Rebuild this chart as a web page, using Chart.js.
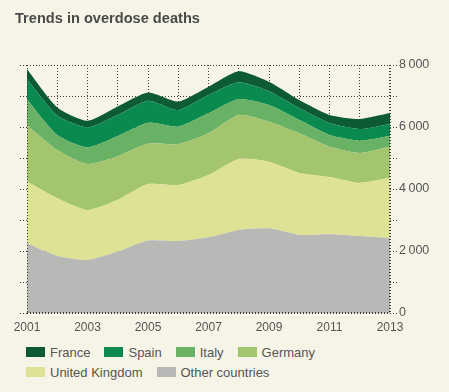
<!DOCTYPE html>
<html>
<head>
<meta charset="utf-8">
<script src="https://cdn.jsdelivr.net/npm/chart.js@4/dist/chart.umd.min.js"></script>
<style>
  body { margin: 0; background: #f5f4e7; font-family: "Liberation Sans", Arial, sans-serif; }
  #wrap { position: relative; width: 449px; height: 392px; overflow: hidden; }
  #title { position: absolute; left: 15px; top: 10px; font-size: 14.6px; font-weight: bold; color: #4a4a4a; }
  #box { position: absolute; left: 0; top: 0; width: 449px; height: 340px; }
  #legend { position: absolute; left: 26px; top: 342px; font-size: 13px; color: #555; }
  .row { display: flex; align-items: center; height: 20px; }
  .item { display: flex; align-items: center; margin-right: 14px; }
  .sw { width: 19px; height: 10px; margin-right: 5px; }
</style>
</head>
<body>
<div id="wrap">
  <div id="box"><canvas id="ctx"></canvas></div>
  <div id="title">Trends in overdose deaths</div>
  <div id="legend"></div>
</div>
<script>
'use strict';
const years = ['2001', '2002', '2003', '2004', '2005', '2006', '2007', '2008', '2009', '2010', '2011', '2012', '2013'];
const other = [2250, 1840, 1710, 1980, 2340, 2320, 2440, 2680, 2730, 2520, 2540, 2480, 2410];
const uk = [1990, 1860, 1610, 1670, 1820, 1810, 2010, 2290, 2150, 2000, 1850, 1720, 1950];
const germany = [1820, 1560, 1490, 1410, 1310, 1320, 1350, 1420, 1290, 1280, 980, 960, 1010];
const italy = [830, 480, 530, 650, 670, 560, 640, 510, 540, 430, 370, 400, 340];
const spain = [650, 630, 650, 680, 710, 540, 590, 540, 440, 380, 390, 375, 390];
const france = [320, 260, 210, 270, 260, 270, 270, 360, 310, 260, 260, 325, 350];
const yTicks = [0, 2000, 4000, 6000, 8000];

const series = [
  { label: 'Other countries', data: other, color: '#b8b8b7' },
  { label: 'United Kingdom', data: uk, color: '#dde294' },
  { label: 'Germany', data: germany, color: '#a3c56e' },
  { label: 'Italy', data: italy, color: '#68b165' },
  { label: 'Spain', data: spain, color: '#0b8a50' },
  { label: 'France', data: france, color: '#0c5b35' }
];

const gridCol = '#3c3c3c';
const fmt = v => String(v).replace(/\B(?=(\d{3})+(?!\d))/g, '\u2009');

// dotted axis lines drawn over the areas
const axisLines = {
  id: 'axisLines',
  afterDatasetsDraw(chart) {
    const { ctx, chartArea: a } = chart;
    ctx.save();
    ctx.strokeStyle = gridCol;
    ctx.lineWidth = 1;
    ctx.setLineDash([1, 2]);
    ctx.beginPath();
    ctx.moveTo(a.left + 0.5, a.top);
    ctx.lineTo(a.left + 0.5, a.bottom);
    ctx.moveTo(a.right - 0.5, a.top);
    ctx.lineTo(a.right - 0.5, a.bottom);
    ctx.moveTo(a.left, a.bottom - 0.5);
    ctx.lineTo(a.right, a.bottom - 0.5);
    ctx.stroke();
    ctx.restore();
  }
};

const chart = new Chart(document.getElementById('ctx'), {
  type: 'line',
  data: {
    labels: years,
    datasets: series.map((s, i) => ({
      label: s.label,
      data: s.data,
      backgroundColor: s.color,
      borderWidth: 0,
      pointRadius: 0,
      tension: 0.2,
      fill: i === 0 ? 'origin' : '-1',
      yAxisID: 'y'
    }))
  },
  options: {
    responsive: true,
    maintainAspectRatio: false,
    animation: false,
    layout: { padding: { top: 65, left: 0, right: 0, bottom: 0 } },
    plugins: { legend: { display: false }, tooltip: { enabled: false } },
    scales: {
      x: {
        offset: false,
        grid: { color: gridCol, drawTicks: false },
        border: { display: false, dash: [1, 2] },
        ticks: {
          color: '#555', font: { size: 12, family: 'Liberation Sans' }, padding: 7,
          maxRotation: 0, autoSkip: false,
          callback: (v, i) => (i % 2 === 0 ? years[i] : '')
        },
        afterFit: s => { s.height = 27; }
      },
      y: {
        position: 'right',
        stacked: true,
        min: 0, max: 8000,
        grid: { color: gridCol, tickLength: 7, tickBorderDash: [1, 2] },
        border: { display: false, dash: [1, 2] },
        ticks: {
          stepSize: 1000, color: '#555', padding: 2,
          font: { size: 12.5, family: 'Liberation Sans' },
          callback: v => (yTicks.includes(v) ? fmt(v) : '')
        },
        afterFit: s => { s.width = 59; }
      },
      yl: {
        position: 'left',
        min: 0, max: 8000,
        grid: { color: gridCol, drawOnChartArea: false, tickLength: 7, tickBorderDash: [1, 2] },
        border: { display: false },
        ticks: { stepSize: 1000, callback: () => '' },
        afterFit: s => { s.width = 27; }
      }
    }
  },
  plugins: [axisLines]
});

// legend in the reference order
const rows = [['France', 'Spain', 'Italy', 'Germany'], ['United Kingdom', 'Other countries']];
const legend = document.getElementById('legend');
rows.forEach(r => {
  const row = document.createElement('div');
  row.className = 'row';
  r.forEach(name => {
    const s = series.find(x => x.label === name);
    const it = document.createElement('div');
    it.className = 'item';
    it.innerHTML = '<span class="sw" style="background:' + s.color + '"></span><span>' + name + '</span>';
    row.appendChild(it);
  });
  legend.appendChild(row);
});
</script>
</body>
</html>
